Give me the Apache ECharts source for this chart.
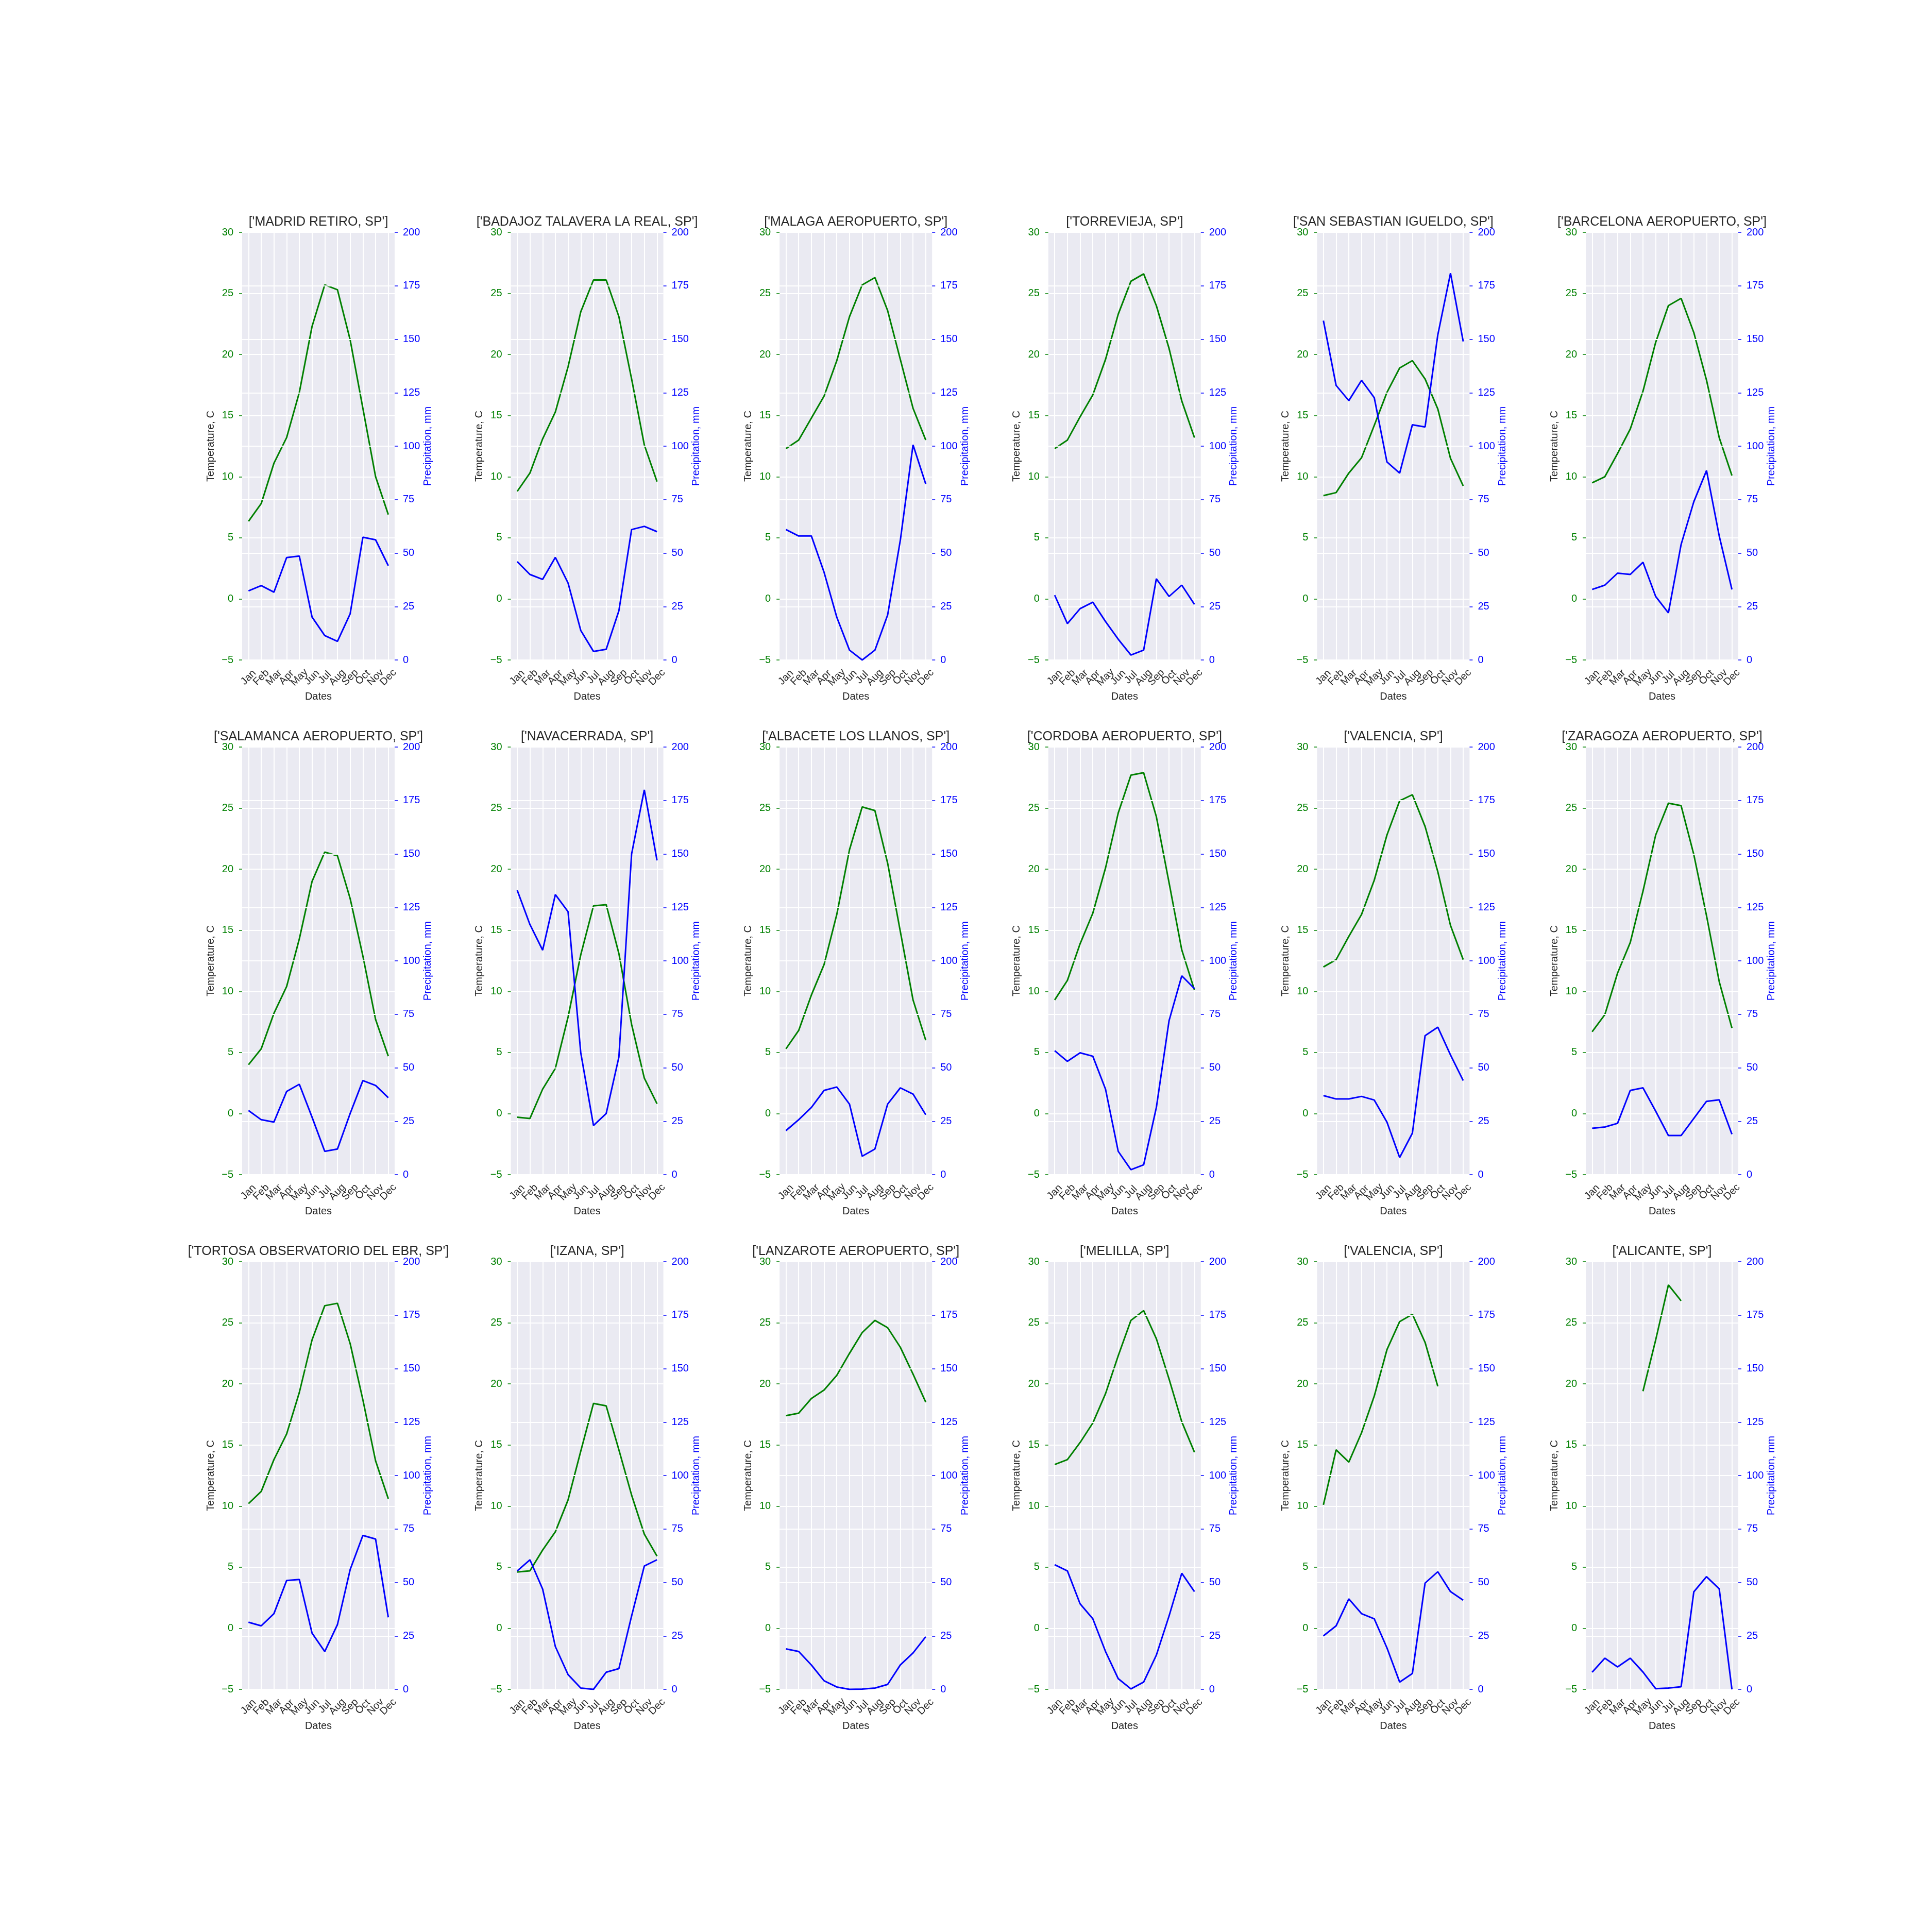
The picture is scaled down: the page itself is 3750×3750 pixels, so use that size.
<!DOCTYPE html>
<html><head><meta charset="utf-8">
<script src="https://cdn.jsdelivr.net/npm/echarts@6/dist/echarts.min.js"></script>
<style>html,body{margin:0;padding:0;background:#fff}#c{width:3750px;height:3750px}</style>
</head><body><div id="c"></div>
<script>
// ---- data ----
const months = ['Jan','Feb','Mar','Apr','May','Jun','Jul','Aug','Sep','Oct','Nov','Dec'];
const stationNames = [
  "['MADRID RETIRO, SP']", "['BADAJOZ TALAVERA LA REAL, SP']", "['MALAGA AEROPUERTO, SP']",
  "['TORREVIEJA, SP']", "['SAN SEBASTIAN IGUELDO, SP']", "['BARCELONA AEROPUERTO, SP']",
  "['SALAMANCA AEROPUERTO, SP']", "['NAVACERRADA, SP']", "['ALBACETE LOS LLANOS, SP']",
  "['CORDOBA AEROPUERTO, SP']", "['VALENCIA, SP']", "['ZARAGOZA AEROPUERTO, SP']",
  "['TORTOSA OBSERVATORIO DEL EBR, SP']", "['IZANA, SP']", "['LANZAROTE AEROPUERTO, SP']",
  "['MELILLA, SP']", "['VALENCIA, SP']", "['ALICANTE, SP']"
];
const tempMadrid = [6.35, 7.8, 11.1, 13.2, 16.9, 22.3, 25.7, 25.3, 21.2, 15.6, 10.0, 6.9];
const precMadrid = [32.3, 34.8, 31.7, 47.9, 48.6, 20.1, 11.4, 8.7, 21.6, 57.4, 56.2, 44.1];
const tempBadajoz = [8.8, 10.3, 13.1, 15.3, 19.0, 23.5, 26.1, 26.1, 23.1, 18.0, 12.6, 9.6];
const precBadajoz = [46, 40, 37.7, 48, 36, 13.8, 4, 5, 23, 61, 62.5, 60];
const tempMalaga = [12.3, 13.0, 14.8, 16.6, 19.5, 23.1, 25.7, 26.3, 23.6, 19.6, 15.6, 13.0];
const precMalaga = [61, 58, 58, 41, 20, 4.6, 0, 4.6, 21, 56, 100.6, 82.3];
const tempTorrevieja = [12.3, 13.0, 14.9, 16.7, 19.6, 23.3, 26.0, 26.6, 24.0, 20.5, 16.2, 13.2];
const precTorrevieja = [30.3, 17, 24, 27, 18, 9.7, 2.3, 4.6, 38, 29.7, 35, 26];
const tempSanSebastian = [8.45, 8.7, 10.3, 11.55, 14.2, 16.9, 18.9, 19.5, 18.0, 15.55, 11.5, 9.25];
const precSanSebastian = [158.7, 128.4, 121.3, 130.8, 122.7, 92.6, 87.4, 110, 109, 152, 180.9, 149];
const tempBarcelona = [9.5, 10.0, 11.9, 13.9, 17.0, 21.0, 24.0, 24.6, 21.8, 17.9, 13.2, 10.1];
const precBarcelona = [33, 35, 40.6, 40, 45.7, 29.7, 22, 54, 74, 88.6, 58, 33];
const tempSalamanca = [4.0, 5.3, 8.2, 10.4, 14.3, 19.0, 21.4, 21.1, 17.6, 12.9, 7.7, 4.7];
const precSalamanca = [30, 25.7, 24.6, 38.9, 42.3, 26.9, 10.9, 12, 28.6, 44, 41.7, 36];
const tempNavacerrada = [-0.3, -0.4, 2.0, 3.7, 7.9, 13.0, 17.0, 17.1, 13.1, 7.3, 2.9, 0.8];
const precNavacerrada = [133, 117, 105, 131, 123, 57, 23, 28.6, 55, 150, 180, 147];
const tempAlbacete = [5.3, 6.8, 9.7, 12.2, 16.3, 21.6, 25.1, 24.8, 20.5, 14.9, 9.3, 6.0];
const precAlbacete = [20.6, 25.7, 31.4, 39.4, 41, 33, 8.6, 12, 33, 40.6, 37.7, 28];
const tempCordoba = [9.3, 10.9, 13.9, 16.4, 20.1, 24.6, 27.7, 27.9, 24.3, 18.9, 13.4, 10.1];
const precCordoba = [58, 53, 57, 55.4, 40, 10.9, 2.3, 4.6, 31.4, 72, 93, 87];
const tempValencia = [12.0, 12.6, 14.5, 16.3, 19.1, 22.8, 25.6, 26.1, 23.5, 19.8, 15.4, 12.6];
const precValencia = [37, 35.4, 35.4, 36.6, 34.9, 24.6, 8, 19.4, 65, 69, 56, 44];
const tempZaragoza = [6.7, 8.1, 11.5, 14.0, 18.2, 22.8, 25.4, 25.2, 21.2, 16.2, 10.8, 7.0];
const precZaragoza = [21.7, 22.3, 24, 39.4, 40.6, 29.7, 18.3, 18.3, 26.3, 34.3, 35, 18.9];
const tempTortosa = [10.2, 11.2, 13.8, 15.9, 19.3, 23.6, 26.4, 26.6, 23.3, 18.7, 13.7, 10.6];
const precTortosa = [31.4, 29.7, 35.4, 50.9, 51.4, 26.3, 17.7, 30.3, 56, 72, 70.3, 33.7];
const tempIzana = [4.6, 4.7, 6.4, 7.9, 10.5, 14.5, 18.4, 18.2, 14.6, 10.9, 7.7, 5.9];
const precIzana = [55.4, 60.6, 46.9, 20, 6.9, 0.6, 0, 8, 9.7, 34.3, 57.7, 60.6];
const tempLanzarote = [17.4, 17.6, 18.8, 19.5, 20.7, 22.5, 24.2, 25.2, 24.6, 23.0, 20.8, 18.5];
const precLanzarote = [18.9, 17.7, 11.4, 4, 1.1, 0, 0.1, 0.6, 2.3, 11.4, 17, 24.6];
const tempMelilla = [13.4, 13.8, 15.2, 16.8, 19.2, 22.3, 25.2, 26.0, 23.7, 20.4, 16.9, 14.4];
const precMelilla = [58.3, 55.4, 40, 33, 17.7, 5, 0.2, 3.4, 16, 34.3, 54.3, 45.7];
const tempValencia2 = [10.1, 14.6, 13.6, 16.0, 19.0, 22.8, 25.1, 25.7, 23.4, 19.8, null, null];
const precValencia2 = [25, 29.7, 42.3, 35.4, 33, 19.4, 3.4, 7.4, 49.7, 55, 45.7, 41.7];
const tempAlicante = [null, null, null, null, 19.4, 23.6, 28.1, 26.8, null, null, null, null];
const precAlicante = [8.0, 14.6, 10.5, 14.6, 8.1, 0.3, 0.6, 1.2, 45.6, 52.7, 47, 0];

const temps = [tempMadrid, tempBadajoz, tempMalaga, tempTorrevieja, tempSanSebastian, tempBarcelona,
  tempSalamanca, tempNavacerrada, tempAlbacete, tempCordoba, tempValencia, tempZaragoza,
  tempTortosa, tempIzana, tempLanzarote, tempMelilla, tempValencia2, tempAlicante];
const precs = [precMadrid, precBadajoz, precMalaga, precTorrevieja, precSanSebastian, precBarcelona,
  precSalamanca, precNavacerrada, precAlbacete, precCordoba, precValencia, precZaragoza,
  precTortosa, precIzana, precLanzarote, precMelilla, precValencia2, precAlicante];

// ---- layout / style ----
const FONT = 'Liberation Sans, Arial, Helvetica, sans-serif';
const TXT = '#262626', GREEN = '#008000', BLUE = '#0000FF';
const PW = 296, PH = 830, COL0 = 470, COLSTEP = 521.6, ROW0 = 451, ROWSTEP = 999;
const minusFmt = v => (v < 0 ? '\u2212' + Math.abs(v) : String(v));

const grid = [], xAxis = [], yAxis = [], series = [], title = [];
stationNames.forEach((name, i) => {
  const r = Math.floor(i / 6), c = i % 6;
  const left = COL0 + c * COLSTEP, top = ROW0 + r * ROWSTEP;
  grid.push({left, top, width: PW, height: PH, show: true, backgroundColor: '#EAEAF2', borderWidth: 0, z: 0});
  title.push({text: name, left: left + PW / 2, top: top - 32, textAlign: 'center', padding: 0,
    textStyle: {fontFamily: FONT, fontSize: 25, fontWeight: 'normal', color: TXT}});
  xAxis.push({type: 'category', gridIndex: i, data: months, boundaryGap: true, z: 1,
    name: 'Dates', nameLocation: 'middle', nameGap: 61,
    nameTextStyle: {fontFamily: FONT, fontSize: 20, color: TXT},
    axisLine: {show: false}, axisTick: {show: false},
    axisLabel: {interval: 0, rotate: 45, align: 'center', verticalAlign: 'middle', margin: 34,
      fontFamily: FONT, fontSize: 20, color: TXT},
    splitLine: {show: true, alignWithLabel: true, lineStyle: {color: '#ffffff', width: 2}}});
  yAxis.push({type: 'value', gridIndex: i, position: 'left', min: -5, max: 30, interval: 5, z: 1,
    name: 'Temperature, C', nameLocation: 'middle', nameRotate: 90, nameGap: 51,
    nameTextStyle: {fontFamily: FONT, fontSize: 20, color: TXT},
    axisLine: {show: false}, axisTick: {show: true, length: 6, lineStyle: {color: GREEN, width: 1.5}},
    axisLabel: {margin: 17, fontFamily: FONT, fontSize: 20, color: GREEN, formatter: minusFmt},
    splitLine: {show: true, lineStyle: {color: '#ffffff', width: 2}}});
  yAxis.push({type: 'value', gridIndex: i, position: 'right', min: 0, max: 200, interval: 25, z: 3,
    name: 'Precipitation, mm', nameLocation: 'middle', nameRotate: 90, nameGap: 54,
    nameTextStyle: {fontFamily: FONT, fontSize: 20, color: BLUE},
    axisLine: {show: false}, axisTick: {show: true, length: 6, lineStyle: {color: BLUE, width: 1.5}},
    axisLabel: {margin: 16, fontFamily: FONT, fontSize: 20, color: BLUE},
    splitLine: {show: true, lineStyle: {color: '#ffffff', width: 2}}});
  series.push({type: 'line', xAxisIndex: i, yAxisIndex: 2 * i, data: temps[i], z: 2,
    showSymbol: false, symbol: 'none', connectNulls: false,
    lineStyle: {color: GREEN, width: 3}, itemStyle: {color: GREEN}});
  series.push({type: 'line', xAxisIndex: i, yAxisIndex: 2 * i + 1, data: precs[i], z: 4,
    showSymbol: false, symbol: 'none', connectNulls: false,
    lineStyle: {color: BLUE, width: 3}, itemStyle: {color: BLUE}});
});

const chart = echarts.init(document.getElementById('c'), null, {renderer: 'canvas', width: 3750, height: 3750});
chart.setOption({backgroundColor: '#ffffff', animation: false, title, grid, xAxis, yAxis, series});
</script>
</body></html>
